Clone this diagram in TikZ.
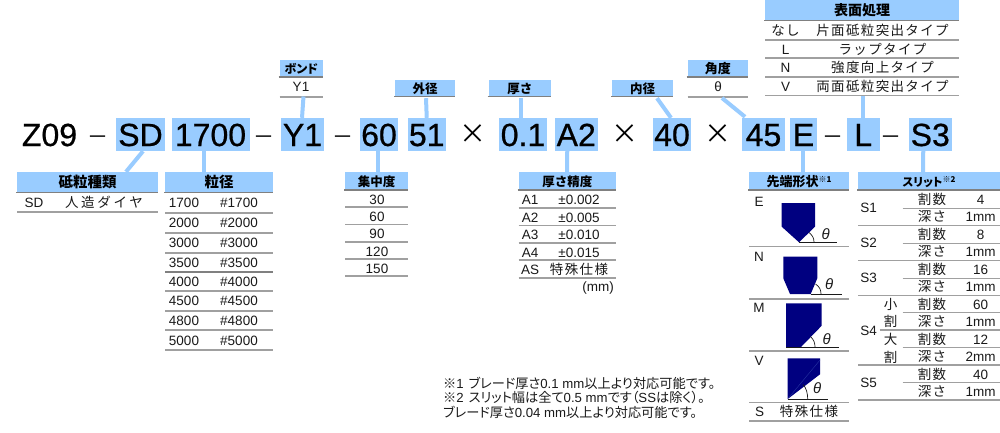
\documentclass[tikz,border=0pt]{standalone}
\usepackage{fontspec}
\setmainfont{Liberation Sans}
\newfontfamily\bigcode[FakeBold=0.6]{Liberation Sans}
\newfontfamily\jp{Noto Sans CJK JP}
\newfontfamily\jpw[LetterSpace=10]{Noto Sans CJK JP}
\newfontfamily\jpww[LetterSpace=20]{Noto Sans CJK JP}
\newfontfamily\jpp[RawFeature=+palt]{Noto Sans CJK JP}
\definecolor{skyb}{HTML}{99CCFF}
\definecolor{rulegray}{HTML}{A0A0A0}
\definecolor{hdgray}{HTML}{808080}
\definecolor{navyb}{HTML}{000080}
\definecolor{inkb}{HTML}{1A1A1A}
\newcounter{tn}
\tikzset{
  x=1pt,y=-1pt,
  partcell/.style={fill=skyb,inner sep=0pt,font=\bigcode\fontsize{32}{32}\selectfont,text height=23pt,text depth=0pt,text=black},
  plain/.style={inner sep=0pt,font=\bigcode\fontsize{32}{32}\selectfont,text height=23pt,text depth=0pt,text=black},
  sepsign/.style={inner sep=0pt,font=\jp\fontsize{21}{21}\selectfont,text=black},
  crosssign/.style={inner sep=0pt,font=\jp\fontsize{27}{27}\selectfont,text=black},
  hdrbox/.style={fill=skyb,inner sep=0pt,text height=11pt,text depth=0pt,text=black},
  conn/.style={draw=skyb,line width=4pt},
  rowline/.style={draw=rulegray,line width=1.1pt},
  hdline/.style={draw=hdgray,line width=1.8pt},
  txt/.style={inner sep=0pt,font=\fontsize{13.5}{13.5}\selectfont,text height=9.5pt,text depth=0pt,text=inkb},
  foot/.style={inner sep=0pt,anchor=west,font=\fontsize{13.2}{13.2}\selectfont,text height=9.5pt,text depth=0pt,text=inkb},
  tip/.style={fill=navyb,draw=none},
  base/.style={draw=inkb,line width=0.8pt},
  tipangle/.style={draw=inkb,line width=0.7pt},
  thetamark/.style={inner sep=0pt,font=\itshape\fontsize{15}{15}\selectfont,text=inkb},
}
\newcommand\rowtext[4][]{\stepcounter{tn}\node[txt,#1] (t\arabic{tn}) at (#2,#3) {#4};}
\newcommand\partbox[5]{\node[partcell,minimum width={#3-#2},minimum height=33pt] (#1) at ({(#2+#3)/2},134.5) {#4};}
\newcommand\hdrnode[7]{\node[hdrbox,font=\jp\bfseries\fontsize{#7}{#7}\selectfont,minimum width={#3-#2},minimum height={#5-#4}] (#1) at ({(#2+#3)/2},{(#4+#5)/2}) {#6};
  \draw[hdline] (#2-1,#5+0.5) -- (#3,#5+0.5);}
\newcommand\rl[3]{\draw[rowline] (#1,#3) -- (#2,#3);}
\begin{document}
\begin{tikzpicture}
\useasboundingbox (0,0) rectangle (1000,432);
\fill[white] (0,0) rectangle (1000,432);

% main code row
\node[plain] (z09) at (49.5,134.5) {Z09};
\node[sepsign] (d1) at (98,140) {－};
\partbox{sd}{116}{165}{SD}{}
\partbox{grit}{171.5}{249.5}{1700}{}
\node[sepsign] (d2) at (264,140) {－};
\partbox{bond}{281}{324}{Y1}{}
\node[sepsign] (d3) at (343,140) {－};
\partbox{conc}{360}{398}{60}{}
\partbox{od}{408}{445.5}{51}{}
\node[crosssign] (x1) at (473,134.5) {×};
\partbox{thick}{499}{547}{0.1}{}
\partbox{acc}{554.5}{598}{A2}{}
\node[crosssign] (x2) at (625,134.5) {×};
\partbox{id}{653}{691}{40}{}
\node[crosssign] (x3) at (718,134.5) {×};
\partbox{ang}{742}{785}{45}{}
\partbox{edge}{790}{817}{E}{}
\node[sepsign] (d4) at (833,140) {－};
\partbox{surf}{847}{879.5}{L}{}
\node[sepsign] (d5) at (891,140) {－};
\partbox{slit}{908.5}{952}{S3}{}

% headers
\hdrnode{hsd}{17}{158}{172}{192}{砥粒種類}{14.5}
\hdrnode{hgrit}{165}{273}{172}{192}{粒径}{14.5}
\hdrnode{hconc}{345}{408}{172}{189.5}{集中度}{12.5}
\hdrnode{hacc}{518.5}{616}{172}{189.5}{厚さ精度}{12.5}
\hdrnode{hedge}{749}{849}{172}{189.5}{先端形状\raisebox{4pt}{\bfseries\fontsize{8}{8}\selectfont ※1}}{13}
\hdrnode{hslit}{858}{1000}{172}{189.5}{\jpp\bfseries スリット\raisebox{4pt}{\fontsize{8}{8}\selectfont ※2}}{11.5}
\hdrnode{hbond}{279.5}{323}{60}{76.5}{\jpp\bfseries ボンド}{12}
\hdrnode{hod}{395}{455}{80}{96}{外径}{12.5}
\hdrnode{hthick}{488.5}{551}{80}{96}{厚さ}{12.5}
\hdrnode{hid}{612}{673}{80}{96}{内径}{12.5}
\hdrnode{hang}{687.5}{748}{60}{76.5}{角度}{13}
\hdrnode{hsurf}{765}{959}{0}{20}{表面処理}{14}

% row rules
\rl{17}{158}{212}
\foreach \yy in {213,233,253,291,311,330,350} {\rl{165}{273}{\yy}}
\draw[hdline] (165,272) -- (273,272);
\foreach \yy in {207,224.5,242,259,276} {\rl{345}{408}{\yy}}
\foreach \yy in {208,225.5,243,260,278} {\rl{518.5}{616}{\yy}}
\rl{279.5}{323}{97}
\rl{687.5}{748}{97}
\foreach \yy in {40,58,77,95.5} {\rl{765}{959}{\yy}}
\foreach \yy in {246.5,299,351,402.5,421} {\rl{749}{849}{\yy}}
\foreach \yy in {225.7,260.7,295.7,365,400} {\rl{858}{1000}{\yy}}
\foreach \yy in {208.3,243.3,278.3,312.3,347.3,382.3} {\rl{902.7}{1000}{\yy}}
\rl{879.5}{1000}{330}

% connectors
\draw[conn] ([xshift=2.5pt]sd.south) -- ([xshift=38.5pt]hsd.north);
\draw[conn] ([xshift=-6.5pt]grit.south) -- ([xshift=-15pt]hgrit.north);
\draw[conn] ([xshift=-0.5pt]bond.north) -- ([xshift=1pt,yshift=0.5pt]bond.north |- 0,97);
\draw[conn] ([xshift=-1pt]conc.south) -- ([xshift=1.5pt]hconc.north);
\draw[conn] (od.north) -- ([xshift=1pt,yshift=-2pt]hod.south);
\draw[conn] ([xshift=-2pt]thick.north) -- ([xshift=1.25pt,yshift=-2pt]hthick.south);
\draw[conn] ([xshift=-9pt]acc.south) -- ([xshift=-0.25pt]hacc.north);
\draw[conn] ([xshift=-1pt]id.north) -- ([xshift=14.5pt,yshift=-2pt]hid.south) ;
\coordinate (angrow) at (722,98);
\draw[conn] ([xshift=-18.5pt,yshift=1pt]ang.north) -- (angrow);
\draw[conn] ([xshift=-0.5pt]edge.south) -- ([xshift=4pt]hedge.north);
\coordinate (surfrow) at (863,96);
\draw[conn] ([xshift=-0.25pt]surf.north) -- (surfrow);
\draw[conn] ([xshift=-7pt]slit.south) -- ([xshift=-6pt]hslit.north);

% texts: upper tables
\rowtext{301}{87}{Y1}
\rowtext{718}{87}{θ}
\rowtext{785.5}{30.5}{\jpw なし}
\rowtext{882.5}{30.5}{\jpw 片面砥粒突出タイプ}
\rowtext{785.5}{49.5}{L}
\rowtext{882.5}{49.5}{\jpw ラップタイプ}
\rowtext{785.5}{68}{N}
\rowtext{882.5}{68}{\jpw 強度向上タイプ}
\rowtext{785.5}{86.5}{V}
\rowtext{882.5}{86.5}{\jpw 両面砥粒突出タイプ}

% abrasive type
\rowtext{34}{203}{SD}
\rowtext{104}{203}{\jpww 人造ダイヤ}

% grit
\foreach \a/\yy in {1700/203,2000/223,3000/243,3500/263,4000/282,4500/301,4800/321,5000/341} {
  \rowtext{184}{\yy}{\a}
  \rowtext{239}{\yy}{\#\a}
}

% concentration
\foreach \a/\yy in {30/200,60/217,90/234,120/251.5,150/268.5} {\rowtext{377}{\yy}{\a}}

% thickness accuracy
\foreach \a/\b/\yy in {A1/±0.002/200,A2/±0.005/218,A3/±0.010/235,A4/±0.015/252.5} {
  \rowtext{530}{\yy}{\a}
  \rowtext{579}{\yy}{\b}
}
\rowtext{530}{269.5}{AS}
\rowtext{579}{269.5}{\jpw 特殊仕様}
\rowtext[anchor=east]{614}{287}{(mm)}

% edge shapes
\rowtext{759}{202}{E}
\fill[tip] (781.7,203) -- (815,203) -- (815,226.7) -- (799,242.3) -- (781.7,226.7) -- cycle;
\draw[base] (799,242.3) -- (836.7,242.3);
\draw[tipangle] (814,242.3) .. controls (814,238) and (812.5,235.5) .. (809,232.5);
\node[thetamark] (th1) at (825.7,234) {θ};

\rowtext{759}{256.7}{N}
\fill[tip] (783.3,256.7) -- (817.3,256.7) -- (817.3,278.3) -- (810.7,294) -- (790,294) -- (783.3,278.3) -- cycle;
\draw[base] (810.7,294) -- (841.7,294);
\draw[tipangle] (821,294) .. controls (821,290) and (819.5,286.5) .. (815.5,284);
\node[thetamark] (th2) at (829.3,284.3) {θ};

\rowtext{759}{307.7}{M}
\fill[tip] (786,303.3) -- (821.7,303.3) -- (821.7,325.7) -- (800.7,347.3) -- (786,347.3) -- cycle;
\draw[base] (786,347.3) -- (839.3,347.3);
\draw[tipangle] (815,347.3) .. controls (815,343) and (814,340) .. (810.5,336.5);
\node[thetamark] (th3) at (826.7,339.3) {θ};

\rowtext{759}{360.7}{V}
\fill[tip] (787.7,358.3) -- (820,358.3) -- (820,374.3) -- (787.7,399) -- cycle;
\draw[skyb!25!navyb,line width=0.4pt] (820,360) -- (788.5,398);
\draw[base] (787.7,399) -- (828.3,399);
\draw[tipangle] (807.7,399) .. controls (807.7,394) and (806.5,388) .. (803,384.5);
\node[thetamark] (th4) at (817.3,388.3) {θ};

\rowtext{759.5}{411.7}{S}
\rowtext{809}{411.7}{\jpw 特殊仕様}

% slit table
\foreach \a/\yy in {S1/208,S2/242.7,S3/278,S4/330.7,S5/383} {\rowtext{868.5}{\yy}{\a}}
\foreach \a/\yy in {4/200,8/235,16/270,60/305,12/340,40/374.3} {
  \rowtext{932}{\yy}{\jpw 割数}
  \rowtext{980.7}{\yy}{\a}
}
\foreach \a/\yy in {1mm/217,1mm/252,1mm/287,1mm/322,2mm/357,1mm/391.7} {
  \rowtext{932}{\yy}{\jpw 深さ}
  \rowtext{980.7}{\yy}{\a}
}
\rowtext{890.7}{304.3}{\jp 小}
\rowtext{890.7}{322}{\jp 割}
\rowtext{890.7}{340}{\jp 大}
\rowtext{890.7}{357.7}{\jp 割}

% footnotes
\node[foot] (f1) at (443,383.5) {{\jp ※}1\hspace{5pt}{\jpp ブレード厚さ}0.1 mm{\jpp 以上より対応可能です。}};
\node[foot] (f2) at (443,398) {{\jp ※}2\hspace{5pt}{\jpp スリット幅は全て}0.5 mm{\jpp です（}SS{\jpp は除く）。}};
\node[foot] (f3) at (443,413) {{\jpp ブレード厚さ}0.04 mm{\jpp 以上より対応可能です。}};
\end{tikzpicture}
\end{document}
